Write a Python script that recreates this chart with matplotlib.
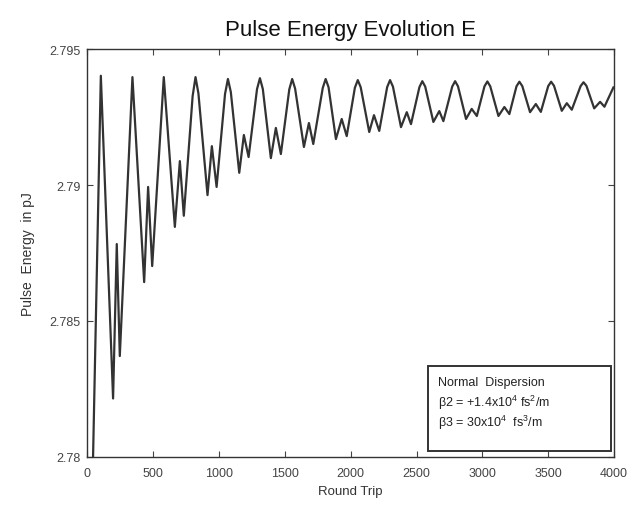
import matplotlib as mpl
mpl.use("Agg")

import matplotlib.pyplot as plt
from matplotlib.patches import Rectangle

mpl.rcParams.update({
    "font.family": ["Liberation Sans", "DejaVu Sans"],
    "mathtext.fontset": "custom",
    "mathtext.rm": "Liberation Sans",
    "mathtext.it": "Liberation Sans:italic",
    "xtick.direction": "in",
    "ytick.direction": "in",
    "xtick.top": True,
    "ytick.right": True,
})

# points (round trip, pulse energy in pJ):
# peaks, their shoulders, troughs and the small side bumps
round_trip = [44, 103, 196, 224, 247, 343, 432, 462, 493, 581,
              665, 703, 733, 800, 822, 844, 913, 946, 982, 1046,
              1068, 1090, 1154, 1189, 1225, 1289, 1311, 1333, 1394, 1432,
              1470, 1534, 1556, 1578, 1645, 1683, 1716, 1788, 1810, 1832,
              1888, 1932, 1970, 2032, 2054, 2076, 2141, 2177, 2217, 2277,
              2299, 2321, 2382, 2426, 2458, 2522, 2544, 2566, 2628, 2673,
              2704, 2771, 2793, 2815, 2876, 2919, 2958, 3016, 3038, 3060,
              3122, 3167, 3205, 3259, 3281, 3303, 3362, 3406, 3444, 3500,
              3522, 3544, 3603, 3641, 3679, 3746, 3768, 3790, 3849, 3894,
              3927, 3995]
energy = [2.78000, 2.79402, 2.78215, 2.78783, 2.78371, 2.79397, 2.78643, 2.78993, 2.78702, 2.79397,
          2.78846, 2.79088, 2.78887, 2.79327, 2.79397, 2.79337, 2.78963, 2.79143, 2.78993, 2.79335,
          2.79390, 2.79342, 2.79045, 2.79184, 2.79103, 2.79353, 2.79393, 2.79353, 2.79099, 2.79210,
          2.79114, 2.79352, 2.79390, 2.79355, 2.79140, 2.79228, 2.79151, 2.79357, 2.79390, 2.79360,
          2.79169, 2.79243, 2.79180, 2.79358, 2.79386, 2.79360, 2.79195, 2.79257, 2.79199, 2.79360,
          2.79386, 2.79362, 2.79213, 2.79268, 2.79224, 2.79360, 2.79382, 2.79362, 2.79232, 2.79272,
          2.79235, 2.79362, 2.79382, 2.79363, 2.79243, 2.79280, 2.79254, 2.79363, 2.79381, 2.79363,
          2.79254, 2.79287, 2.79261, 2.79363, 2.79380, 2.79364, 2.79268, 2.79298, 2.79269, 2.79364,
          2.79380, 2.79365, 2.79273, 2.79301, 2.79277, 2.79364, 2.79378, 2.79365, 2.79282, 2.79306,
          2.79288, 2.79359]

xticks = [0, 500, 1000, 1500, 2000, 2500, 3000, 3500, 4000]
yticks = [2.78, 2.785, 2.79, 2.795]
ytick_labels = ["2.78", "2.785", "2.79", "2.795"]

fig = plt.figure(figsize=(6.37, 5.06), dpi=100)
ax = fig.add_axes([0.137, 0.095, 0.827, 0.806])

ax.plot(round_trip, energy, color="#333333", lw=1.6, solid_joinstyle="round")

ax.set_xlim(0, 4000)
ax.set_ylim(2.78, 2.795)
ax.set_xticks(xticks)
ax.set_yticks(yticks)
ax.set_yticklabels(ytick_labels)
ax.tick_params(labelsize=9, length=4, width=0.8, colors="#444444")
ax.tick_params(axis="x", pad=7.5)
ax.tick_params(axis="y", pad=5)
for s in ax.spines.values():
    s.set_color("#333333")
    s.set_linewidth(1.0)

ax.set_title("Pulse Energy Evolution E", fontsize=16, pad=10, color="#111111")
ax.set_xlabel("Round Trip", fontsize=9.5, labelpad=4, color="#333333")
ax.set_ylabel("Pulse  Energy  in pJ", fontsize=10, labelpad=10, color="#333333")

# parameter box
ax.add_patch(Rectangle((0.647, 0.015), 0.347, 0.208, transform=ax.transAxes,
                       fill=True, facecolor="white", edgecolor="#333333", lw=1.4, zorder=3))
ax.text(0.665, 0.183, "Normal  Dispersion", transform=ax.transAxes, fontsize=9,
        va="center", color="#222222", zorder=4)
ax.text(0.665, 0.135, "\u03b22 = +1.4x10$^{4}$ fs$^{2}$/m", transform=ax.transAxes,
        fontsize=9, va="center", color="#222222", zorder=4)
ax.text(0.665, 0.085, "\u03b23 = 30x10$^{4}$  fs$^{3}$/m", transform=ax.transAxes,
        fontsize=9, va="center", color="#222222", zorder=4)

plt.savefig("out.png", dpi=100)
